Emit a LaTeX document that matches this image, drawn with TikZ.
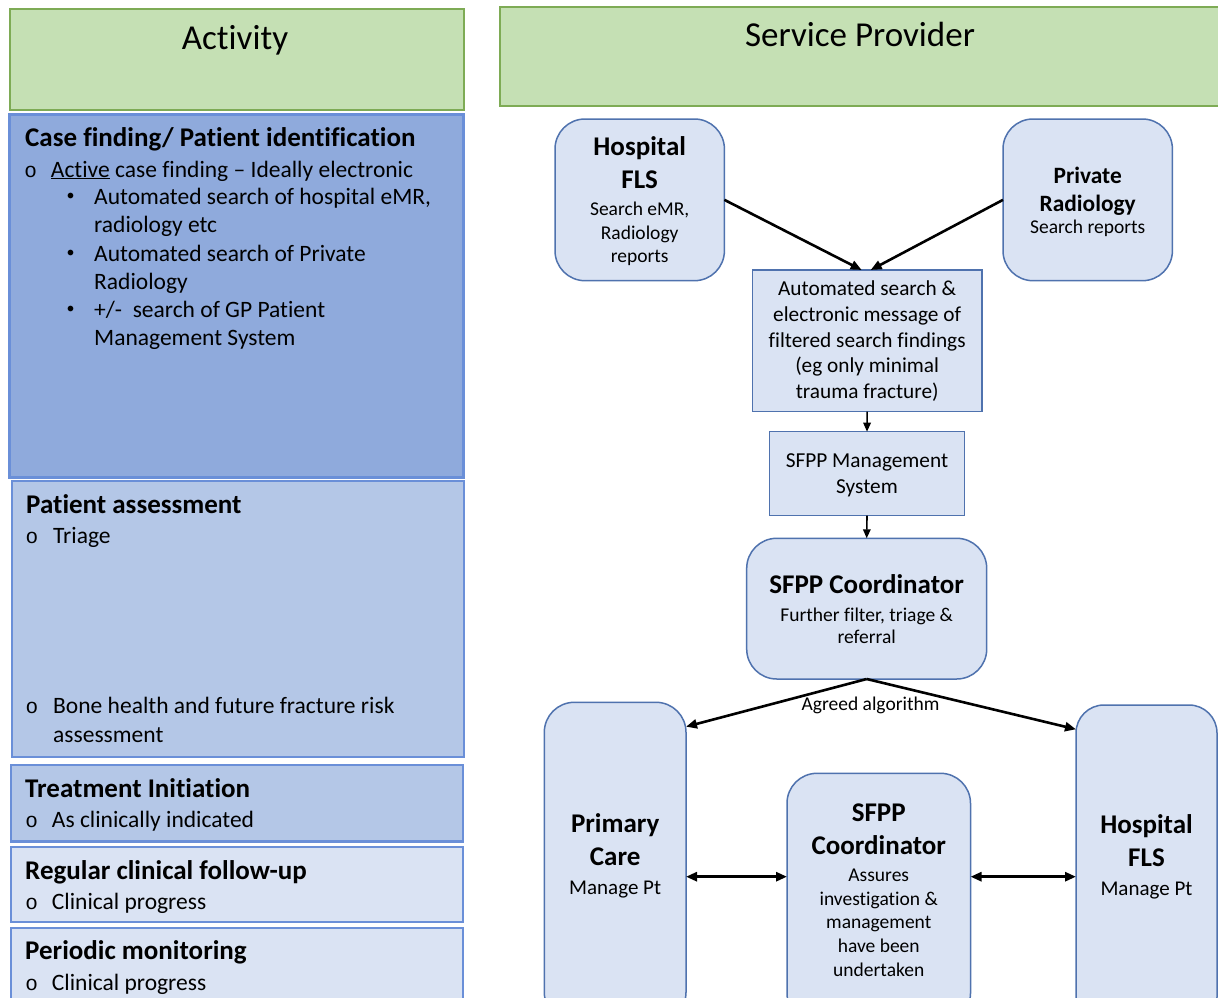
\documentclass[tikz,border=0pt]{standalone}
\usepackage{fontspec}
\setmainfont[Ligatures={NoCommon}]{Carlito}
\setmonofont{Liberation Mono}
\usetikzlibrary{arrows.meta}
\definecolor{grfill}{HTML}{C5E0B4}
\definecolor{grline}{HTML}{7EAB55}
\definecolor{bA}{HTML}{8FAADC}
\definecolor{bB}{HTML}{B4C7E7}
\definecolor{bC}{HTML}{DAE3F3}
\definecolor{bline}{HTML}{6A8FD8}
\definecolor{rline}{HTML}{4F72AE}
\newcommand\fA{\fontsize{35}{42}\selectfont}
\newcommand\fH{\fontsize{27}{33}\selectfont\bfseries}
\newcommand\fB{\fontsize{23.5}{29}\selectfont}
\newcommand\fS{\fontsize{19.5}{24}\selectfont}
\newcommand\fM{\fontsize{21.3}{26}\selectfont}
\newcommand\fP{\fontsize{23.4}{28}\selectfont\bfseries}
\newcommand\fO{\fontsize{21}{26}\selectfont\ttfamily}
\newcommand\fD{\fontsize{16}{20}\selectfont}
\begin{document}
\begin{tikzpicture}[x=1pt,y=-1pt,
  box/.style={inner sep=0pt, outer sep=0pt, anchor=north west},
  gbox/.style={box, fill=grfill, draw=grline, line width=2pt},
  lbox/.style={box, draw=bline, line width=2.2pt},
  rbox/.style={box, fill=bC, draw=rline, line width=1.5pt},
  rrbox/.style={rbox, rounded corners=30pt},
  txt/.style={inner sep=0pt, anchor=base},
  ltxt/.style={inner sep=0pt, anchor=base west},
  dot/.style={inner sep=0pt, anchor=center, font=\fD},
  arr/.style={-{Triangle[length=11pt,width=9pt]}, line width=2.6pt},
  arrs/.style={-{Triangle[length=9pt,width=7.5pt]}, line width=1.6pt},
  arrd/.style={{Triangle[length=11pt,width=9pt]}-{Triangle[length=11pt,width=9pt]}, line width=2.8pt}]
\clip (0,0) rectangle (1218,998);
\fill[white] (0,0) rectangle (1218,998);

% ---------- headers ----------
\node[gbox, minimum width=454pt, minimum height=100pt] (act) at (9.5,9.5) {};
\node[txt, font=\fA] (actT) at (235,50) {Activity};
\node[gbox, minimum width=722pt, minimum height=99pt] (sp) at (500,7) {};
\node[txt, font=\fA] (spT) at (860,47) {Service Provider};

% ---------- left column ----------
\node[lbox, fill=bA, minimum width=454pt, minimum height=363pt] (cf) at (9.5,114.5) {};
\node[lbox, fill=bB, minimum width=452pt, minimum height=276.4pt] (pa) at (12.3,480.8) {};
\node[lbox, fill=bB, minimum width=452.3pt, minimum height=76.1pt] (ti) at (11,765.3) {};
\node[lbox, fill=bC, minimum width=452.3pt, minimum height=75.1pt] (rf) at (11,847.1) {};
\node[lbox, fill=bC, minimum width=452.3pt, minimum height=100pt] (pm) at (11,927.9) {};

\node[ltxt, font=\fH] (cfH) at (25,146.5) {Case finding/ Patient identification};
\node[txt, font=\fO] (cfo1) at (30.7,177) {o};
\node[ltxt, font=\fB] (cf1) at (50.7,177) {\underline{Active} case finding – Ideally electronic};
\node[dot] (cfb1) at (70.7,197.3) {•};
\node[ltxt, font=\fB] (cf2) at (94,204.6) {Automated search of hospital eMR,};
\node[ltxt, font=\fB] (cf3) at (94,232.5) {radiology etc};
\node[dot] (cfb2) at (70.7,253.5) {•};
\node[ltxt, font=\fB] (cf4) at (94,261) {Automated search of Private};
\node[ltxt, font=\fB] (cf5) at (94,289) {Radiology};
\node[dot] (cfb3) at (70.7,309.7) {•};
\node[ltxt, font=\fB] (cf6) at (94,317.2) {+/-\ \ search of GP Patient};
\node[ltxt, font=\fB] (cf7) at (94,345.5) {Management System};

\node[ltxt, font=\fH] (paH) at (26,513.8) {Patient assessment};
\node[txt, font=\fO] (pao1) at (32,543.4) {o};
\node[ltxt, font=\fB] (pa1) at (53,543.4) {Triage};
\node[txt, font=\fO] (pao2) at (32,713.1) {o};
\node[ltxt, font=\fB] (pa2) at (53,713.1) {Bone health and future fracture risk};
\node[ltxt, font=\fB] (pa3) at (53,742) {assessment};

\node[ltxt, font=\fH] (tiH) at (25,797.3) {Treatment Initiation};
\node[txt, font=\fO] (tio) at (31.7,827.6) {o};
\node[ltxt, font=\fB] (ti1) at (51.7,827.6) {As clinically indicated};

\node[ltxt, font=\fH] (rfH) at (25,879) {Regular clinical follow-up};
\node[txt, font=\fO] (rfo) at (31.7,909.4) {o};
\node[ltxt, font=\fB] (rf1) at (51.7,909.4) {Clinical progress};

\node[ltxt, font=\fH] (pmH) at (25,959.9) {Periodic monitoring};
\node[txt, font=\fO] (pmo) at (31.7,990.9) {o};
\node[ltxt, font=\fB] (pm1) at (51.7,990.9) {Clinical progress};

% ---------- right column boxes ----------
\node[rrbox, minimum width=169.4pt, minimum height=161.7pt] (hfls) at (555,119) {};
\node[rrbox, minimum width=169.4pt, minimum height=161.7pt] (prad) at (1003,119) {};
\node[rbox, minimum width=229.7pt, minimum height=141.7pt] (auto) at (752.3,270) {};
\node[rbox, minimum width=195pt, minimum height=84pt] (mgmt) at (769.5,431.7) {};
\node[rrbox, minimum width=240pt, minimum height=140.7pt] (coord) at (746.7,538.3) {};
\node[rrbox, minimum width=141.7pt, minimum height=320pt] (pc) at (544.3,702.3) {};
\node[rrbox, minimum width=183.5pt, minimum height=250pt] (coord2) at (787,773.3) {};
\node[rrbox, rounded corners=28pt, minimum width=141pt, minimum height=320pt] (hfls2) at (1076,705) {};

% texts
\node[txt, font=\fH] (hflsA) at (639.7,155.5) {Hospital};
\node[txt, font=\fH] (hflsB) at (639.7,188.8) {FLS};
\node[txt, font=\fS] (hflsC) at (639.7,215.5) {Search eMR,};
\node[txt, font=\fS] (hflsD) at (639.7,239.5) {Radiology};
\node[txt, font=\fS] (hflsE) at (639.7,262.5) {reports};

\node[txt, font=\fP] (pradA) at (1087.7,183) {Private};
\node[txt, font=\fP] (pradB) at (1087.7,211) {Radiology};
\node[txt, font=\fS] (pradC) at (1087.7,233.8) {Search reports};

\node[txt, font=\fM] (autoA) at (867.15,295) {Automated search \&};
\node[txt, font=\fM] (autoB) at (867.15,321) {electronic message of};
\node[txt, font=\fM] (autoC) at (867.15,347) {filtered search findings};
\node[txt, font=\fM] (autoD) at (867.15,372.7) {(eg only minimal};
\node[txt, font=\fM] (autoE) at (867.15,398.3) {trauma fracture)};

\node[txt, font=\fM] (mgmtA) at (867,467.2) {SFPP Management};
\node[txt, font=\fM] (mgmtB) at (867,493.8) {System};

\node[txt, font=\fH] (coordA) at (866.7,593.8) {SFPP Coordinator};
\node[txt, font=\fS] (coordB) at (866.7,621.2) {Further filter, triage \&};
\node[txt, font=\fS] (coordC) at (866.7,643.8) {referral};

\node[txt, font=\fH] (pcA) at (615.2,832.2) {Primary};
\node[txt, font=\fH] (pcB) at (615.2,865.5) {Care};
\node[txt, font=\fontsize{21}{26}\selectfont] (pcC) at (615.2,894.8) {Manage Pt};

\node[txt, font=\fH] (c2A) at (878.75,821.5) {SFPP};
\node[txt, font=\fH] (c2B) at (878.75,854.5) {Coordinator};
\node[txt, font=\fS] (c2C) at (878.75,881.5) {Assures};
\node[txt, font=\fS] (c2D) at (878.75,905.5) {investigation \&};
\node[txt, font=\fS] (c2E) at (878.75,928.8) {management};
\node[txt, font=\fS] (c2F) at (878.75,952.2) {have been};
\node[txt, font=\fS] (c2G) at (878.75,976.2) {undertaken};

\node[txt, font=\fH] (h2A) at (1146.5,833.8) {Hospital};
\node[txt, font=\fH] (h2B) at (1146.5,866.5) {FLS};
\node[txt, font=\fontsize{21}{26}\selectfont] (h2C) at (1146.5,895.5) {Manage Pt};

% ---------- connectors ----------
\draw[arr] (hfls.east) -- ([xshift=-5.5pt]auto.north);
\draw[arr] (prad.west) -- ([xshift=3.5pt]auto.north);
\draw[arrs] (auto.south) -- (mgmt.north);
\draw[arrs] (mgmt.south) -- (coord.north);
\draw[arr] (coord.south) -- ([yshift=-24.4pt]pc.north east);
\draw[arr] (coord.south) -- ([yshift=-24.3pt]hfls2.north west);
\node[txt, font=\fS] (alg) at (870.5,710.5) {Agreed algorithm};
\coordinate (lvl) at (0,876.7);
\draw[arrd] (pc.east |- lvl) -- (coord2.west |- lvl);
\draw[arrd] (coord2.east |- lvl) -- (hfls2.west |- lvl);
\end{tikzpicture}
\end{document}
